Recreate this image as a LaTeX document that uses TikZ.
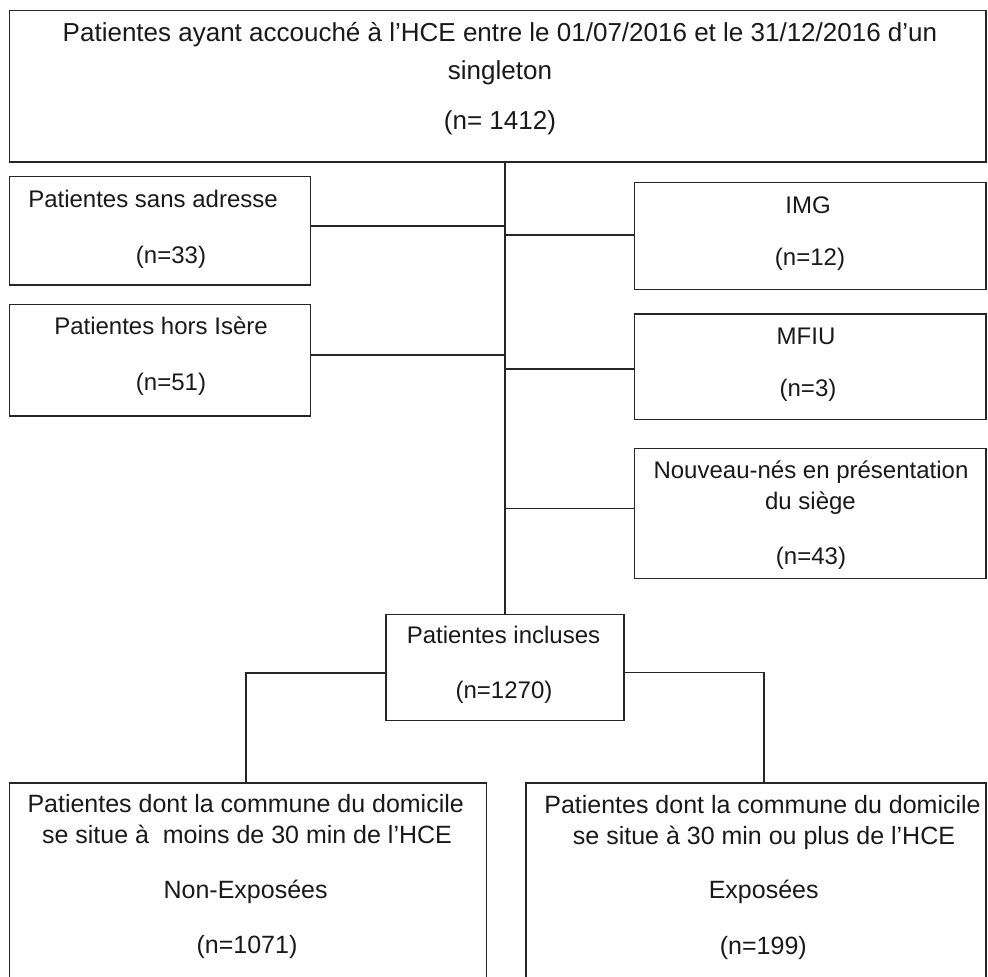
\documentclass[tikz,border=0pt]{standalone}
\usepackage{fontspec}
\setmainfont{Liberation Sans}
\begin{document}
\begin{tikzpicture}[x=1pt,y=-1pt,
  box/.style={draw=black!85, line width=1.4pt, inner sep=0pt, outer sep=0pt, fill=none},
  link/.style={draw=black!85, line width=1.2pt},
  lbl/.style={inner sep=0pt, outer sep=0pt, text height=0.72em, text depth=0pt, anchor=center, text=black!90, yshift=-3pt},
  fbig/.style={lbl, font=\fontsize{26}{26}\selectfont},
  fsmall/.style={lbl, font=\fontsize{24}{24}\selectfont},
  fbot/.style={lbl, font=\fontsize{25}{25}\selectfont}]
\useasboundingbox (0,0) rectangle (988,977);
\begin{scope}
\clip (0,0) rectangle (988,977);
% boxes
\node[box, minimum width=976.5pt, minimum height=151.5pt] (top)  at (497.75,86.25) {};
\node[box, minimum width=301pt,   minimum height=108.5pt] (sans) at (160,230.75) {};
\node[box, minimum width=301pt,   minimum height=111.5pt] (hors) at (160,360.25) {};
\node[box, minimum width=351.5pt, minimum height=107pt]   (img)  at (810.25,236) {};
\node[box, minimum width=351.5pt, minimum height=105.5pt] (mfiu) at (810.25,366.75) {};
\node[box, minimum width=351.5pt, minimum height=130pt]   (nouv) at (810.25,513.5) {};
\node[box, minimum width=238pt,   minimum height=106pt]   (incl) at (505,667.5) {};
\node[box, minimum width=477pt,   minimum height=230pt]   (nonexp) at (248,898) {};
\node[box, minimum width=460pt,   minimum height=230pt]   (exp)  at (756,898) {};
% trunk and side links
\draw[link] (incl.north) -- (incl.north |- top.south);
\draw[link] (sans.east |- 0,226) -- (incl.north |- 0,226);
\draw[link] (hors.east |- 0,355) -- (incl.north |- 0,355);
\draw[link] (img.west |- 0,235) -- (incl.north |- 0,235);
\draw[link] (mfiu.west |- 0,369) -- (incl.north |- 0,369);
\draw[link] (nouv.west |- 0,508.5) -- (incl.north |- 0,508.5);
% split links
\draw[link] (incl.west |- 0,673) -| ([xshift=-2pt]nonexp.north);
\draw[link] (incl.east |- 0,672.5) -| ([xshift=8pt]exp.north);
\end{scope}
% texts
\node[fbig] (t1) at (500,35) {Patientes ayant accouché à l’HCE entre le 01/07/2016 et le 31/12/2016 d’un};
\node[fbig] (t2) at (500,73) {singleton};
\node[fbig] (t3) at (500,123) {(n= 1412)};
\node[fsmall] (s1) at (153,200.7) {Patientes sans adresse};
\node[fsmall] (s2) at (171,256.7) {(n=33)};
\node[fsmall] (h1) at (161,328.3) {Patientes hors Isère};
\node[fsmall] (h2) at (171,384) {(n=51)};
\node[fsmall] (i1) at (808,206.7) {IMG};
\node[fsmall] (i2) at (810,259.3) {(n=12)};
\node[fsmall] (m1) at (806,338.3) {MFIU};
\node[fsmall] (m2) at (808,390) {(n=3)};
\node[fsmall] (n1) at (811,471.7) {Nouveau-nés en présentation};
\node[fsmall] (n2) at (810.5,503.3) {du siège};
\node[fsmall] (n3) at (811,558.3) {(n=43)};
\node[fsmall] (c1) at (503.5,637.3) {Patientes incluses};
\node[fsmall] (c2) at (504,692.3) {(n=1270)};
\node[fbot] (a1) at (245.7,806) {Patientes dont la commune du domicile};
\node[fbot] (a2) at (247,837) {se situe à\ \ moins de 30 min de l’HCE};
\node[fbot] (a3) at (245.6,892.3) {Non-Exposées};
\node[fbot] (a4) at (247,946.7) {(n=1071)};
\node[fbot] (b1) at (762.5,806.7) {Patientes dont la commune du domicile};
\node[fbot] (b2) at (764,838.3) {se situe à 30 min ou plus de l’HCE};
\node[fbot] (b3) at (763.7,892) {Exposées};
\node[fbot] (b4) at (763.3,948.3) {(n=199)};
\end{tikzpicture}
\end{document}
